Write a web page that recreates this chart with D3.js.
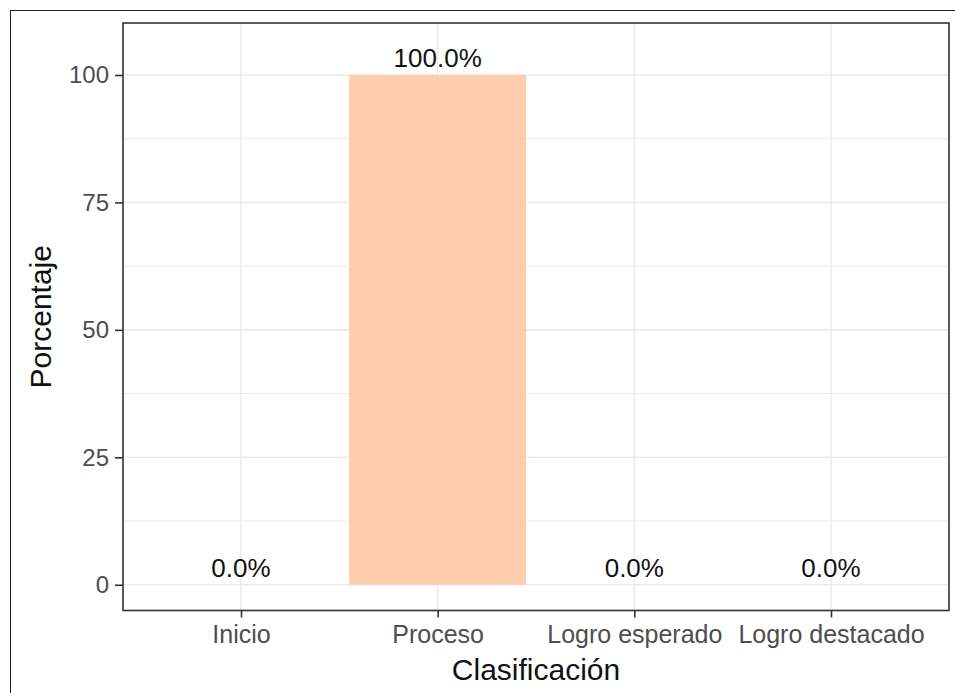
<!DOCTYPE html>
<html>
<head>
<meta charset="utf-8">
<script src="https://d3js.org/d3.v7.min.js"></script>
<style>
  body { margin: 0; background: white; }
  svg text { font-family: "Liberation Sans", Arial, sans-serif; }
</style>
</head>
<body>
<svg width="955" height="693"></svg>
<script>
// data
var categories = ["Inicio", "Proceso", "Logro esperado", "Logro destacado"];
var percentages = [0, 100, 0, 0];
var yTicks = [0, 25, 50, 75, 100];
var yMinor = [12.5, 37.5, 62.5, 87.5];

var svg = d3.select("svg");

// panel box
var pLeft = 123, pRight = 949, pTop = 23, pBottom = 610.5;

// outer frame (right/bottom edges sit outside the picture)
svg.append("rect")
   .attr("x", 10.5).attr("y", 10.5)
   .attr("width", 1000).attr("height", 800)
   .attr("fill", "none").attr("stroke", "#222").attr("stroke-width", 1);

// ggplot expand: 0.6 of a step on each side, bars 0.9 wide
var step = (pRight - pLeft) / (categories.length - 1 + 1.2);
var xs = d3.scalePoint().domain(categories)
           .range([pLeft + step * 0.6, pRight - step * 0.6]);
var ys = d3.scaleLinear().domain([-5.05, 110.2]).range([pBottom, pTop]);

// gridlines
var grid = svg.append("g");
grid.selectAll(".minor").data(yMinor).enter().append("line")
    .attr("x1", pLeft).attr("x2", pRight)
    .attr("y1", function(d) { return ys(d); }).attr("y2", function(d) { return ys(d); })
    .attr("stroke", "#EBEBEB").attr("stroke-width", 1);
grid.selectAll(".major").data(yTicks).enter().append("line")
    .attr("x1", pLeft).attr("x2", pRight)
    .attr("y1", function(d) { return ys(d); }).attr("y2", function(d) { return ys(d); })
    .attr("stroke", "#EBEBEB").attr("stroke-width", 1.6);
grid.selectAll(".vmajor").data(categories).enter().append("line")
    .attr("y1", pTop).attr("y2", pBottom)
    .attr("x1", function(d) { return xs(d); }).attr("x2", function(d) { return xs(d); })
    .attr("stroke", "#EBEBEB").attr("stroke-width", 1.6);

// bars
svg.append("g").selectAll("rect").data(percentages).enter().append("rect")
   .attr("x", function(d, i) { return xs(categories[i]) - step * 0.45; })
   .attr("width", step * 0.9)
   .attr("y", function(d) { return ys(d); })
   .attr("height", function(d) { return ys(0) - ys(d); })
   .attr("fill", "#FDCDAC");

// value labels
svg.append("g").selectAll("text").data(percentages).enter().append("text")
   .attr("x", function(d, i) { return xs(categories[i]); })
   .attr("y", function(d) { return ys(d) - 8; })
   .attr("text-anchor", "middle")
   .style("font-size", "26px")
   .style("fill", "#111")
   .text(function(d) { return d.toFixed(1) + "%"; });

// panel border
svg.append("rect")
   .attr("x", pLeft).attr("y", pTop)
   .attr("width", pRight - pLeft).attr("height", pBottom - pTop)
   .attr("fill", "none").attr("stroke", "#333333").attr("stroke-width", 1.6);

// y axis
var yAxis = svg.append("g")
   .attr("transform", "translate(" + pLeft + ",0)")
   .call(d3.axisLeft(ys).tickValues(yTicks).tickSize(8).tickPadding(6));
yAxis.select(".domain").remove();
yAxis.selectAll("line").attr("stroke", "#333333").attr("stroke-width", 1.6);
yAxis.selectAll("text").style("font-size", "24px").style("fill", "#4D4D4D")
     .style("font-family", "Liberation Sans, Arial, sans-serif");

// x axis
var xAxis = svg.append("g")
   .attr("transform", "translate(0," + pBottom + ")")
   .call(d3.axisBottom(xs).tickSize(7).tickPadding(8));
xAxis.select(".domain").remove();
xAxis.selectAll("line").attr("stroke", "#333333").attr("stroke-width", 1.6);
xAxis.selectAll("text").style("font-size", "25px").style("fill", "#4D4D4D")
     .style("font-family", "Liberation Sans, Arial, sans-serif");

// axis titles
svg.append("text")
   .attr("x", (pLeft + pRight) / 2).attr("y", 680)
   .attr("text-anchor", "middle")
   .style("font-size", "30px").style("fill", "#111")
   .text("Clasificación");

svg.append("text")
   .attr("transform", "translate(51," + ((pTop + pBottom) / 2) + ") rotate(-90)")
   .attr("text-anchor", "middle")
   .style("font-size", "30px").style("fill", "#111")
   .text("Porcentaje");
</script>
</body>
</html>
